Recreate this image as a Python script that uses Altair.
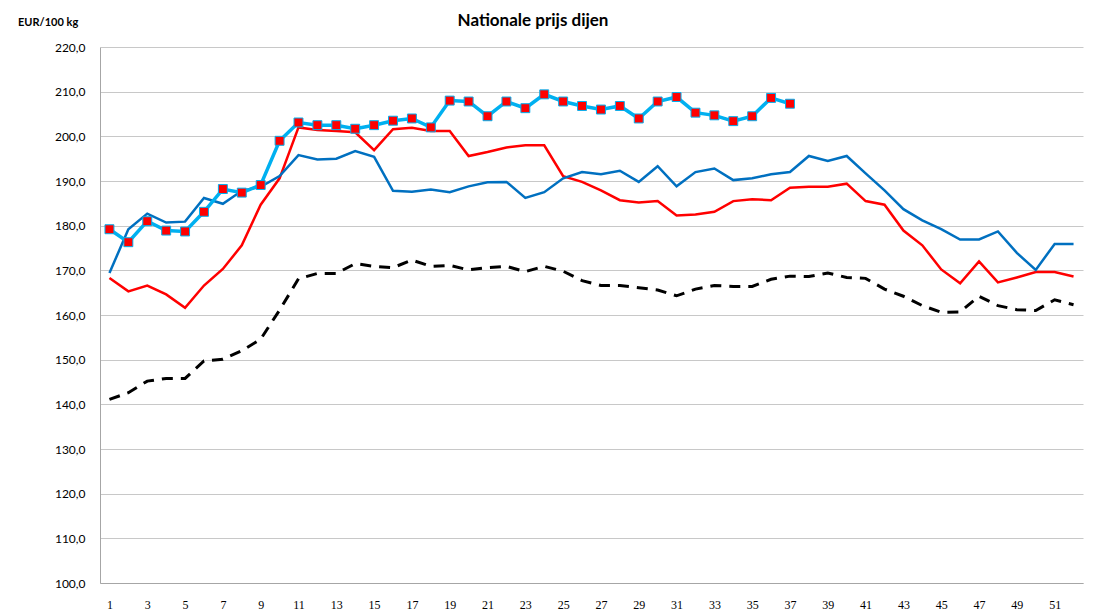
import altair as alt
import pandas as pd

weeks = list(range(1, 53))

# current year (light blue with markers), weeks 1-37
s_current = [179.2, 176.3, 181.0, 178.9, 178.7, 183.1, 188.2, 187.4, 189.1, 199.0,
             203.1, 202.5, 202.5, 201.7, 202.5, 203.5, 204.0, 202.0, 208.0, 207.8,
             204.5, 207.8, 206.3, 209.4, 207.8, 206.8, 206.0, 206.8, 204.0, 207.8,
             208.8, 205.3, 204.7, 203.4, 204.5, 208.6, 207.3]

s_blue = [169.4, 179.2, 182.7, 180.7, 180.9, 186.2, 184.9, 187.8, 188.7, 191.1,
          195.8, 194.8, 195.0, 196.7, 195.4, 187.8, 187.6, 188.1, 187.5, 188.8,
          189.7, 189.8, 186.2, 187.5, 190.6, 192.0, 191.5, 192.3, 189.8, 193.3,
          188.8, 192.0, 192.8, 190.2, 190.6, 191.5, 192.0, 195.6, 194.5, 195.6,
          191.7, 187.9, 183.7, 181.2, 179.2, 176.9, 176.9, 178.7, 173.9, 170.1,
          175.9, 175.9]

s_red = [168.3, 165.3, 166.6, 164.6, 161.6, 166.6, 170.3, 175.6, 184.7, 190.6,
         202.0, 201.4, 201.2, 200.9, 196.9, 201.6, 201.9, 201.2, 201.2, 195.6,
         196.5, 197.5, 198.0, 198.0, 191.1, 189.8, 187.9, 185.7, 185.2, 185.5,
         182.3, 182.5, 183.1, 185.5, 185.9, 185.7, 188.5, 188.7, 188.7, 189.4,
         185.5, 184.7, 178.9, 175.6, 170.2, 167.1, 172.0, 167.3, 168.4, 169.6,
         169.6, 168.6]

s_black = [141.1, 142.6, 145.2, 145.8, 145.8, 149.7, 150.1, 152.0, 154.6, 161.1,
           168.1, 169.3, 169.3, 171.5, 170.9, 170.6, 172.3, 170.9, 171.1, 170.1,
           170.6, 170.9, 169.7, 170.9, 169.8, 167.7, 166.6, 166.6, 166.1, 165.6,
           164.3, 165.8, 166.6, 166.4, 166.4, 168.0, 168.7, 168.6, 169.4, 168.4,
           168.2, 165.8, 164.2, 162.1, 160.6, 160.7, 164.2, 162.1, 161.2, 161.0,
           163.4, 162.3]

x_ticks = list(range(1, 52, 2))
y_ticks = list(range(100, 221, 10))

df_cur = pd.DataFrame({"week": weeks[:len(s_current)], "v": s_current})
df_blue = pd.DataFrame({"week": weeks, "v": s_blue})
df_red = pd.DataFrame({"week": weeks, "v": s_red})
df_black = pd.DataFrame({"week": weeks, "v": s_black})

xenc = alt.X("week:Q",
             scale=alt.Scale(domain=[0.5, 52.5], nice=False, zero=False),
             axis=alt.Axis(values=x_ticks, grid=False, ticks=False, title=None,
                           labelFont="Liberation Sans Narrow", labelFontSize=12,
                           labelColor="#000000", labelPadding=16,
                           domainColor="#a6a6a6", domainWidth=1, labelFlush=False))
yenc = alt.Y("v:Q",
             scale=alt.Scale(domain=[100, 220], nice=False, zero=False),
             axis=alt.Axis(values=y_ticks, grid=True, gridColor="#c8c8c8", gridWidth=1,
                           ticks=False, title=None,
                           labelExpr="replace(format(datum.value, '.1f'), '.', ',')",
                           labelFont="Lato", labelFontSize=12, labelColor="#000000",
                           labelPadding=15, domainColor="#a6a6a6", domainWidth=1))

black = alt.Chart(df_black).mark_line(color="#000000", strokeWidth=3,
                                       strokeDash=[11, 8]).encode(x=xenc, y=yenc)
red = alt.Chart(df_red).mark_line(color="#ff0000", strokeWidth=2.5).encode(x=xenc, y=yenc)
blue = alt.Chart(df_blue).mark_line(color="#0070c0", strokeWidth=2.5).encode(x=xenc, y=yenc)
cur = alt.Chart(df_cur).mark_line(color="#00b0f0", strokeWidth=3.5).encode(x=xenc, y=yenc)
pts = alt.Chart(df_cur).mark_point(shape="square", filled=True, fill="#ff0000",
                                    stroke="#00b0f0", strokeWidth=1, size=80,
                                    opacity=1).encode(x=xenc, y=yenc)

unit = alt.Chart(pd.DataFrame({"t": ["EUR/100 kg"]})).mark_text(
    font="Lato", fontSize=11, fontWeight="bold", align="left", baseline="middle",
    color="#000000").encode(text="t:N", x=alt.value(-82), y=alt.value(-24))

title = alt.Chart(pd.DataFrame({"t": ["Nationale prijs dijen"]})).mark_text(
    font="Lato", fontSize=17, fontWeight="bold", align="center", baseline="middle",
    color="#000000").encode(text="t:N", x=alt.value(433), y=alt.value(-26))

chart = alt.layer(black, red, blue, cur, pts, unit, title).properties(
    width=983, height=536,
    padding={"left": 92, "top": 39, "right": 3, "bottom": 30},
    autosize=alt.AutoSizeParams(type="none"),
).configure_view(stroke=None)

chart.save("out.html", embed_options={"renderer": "svg", "actions": False})
